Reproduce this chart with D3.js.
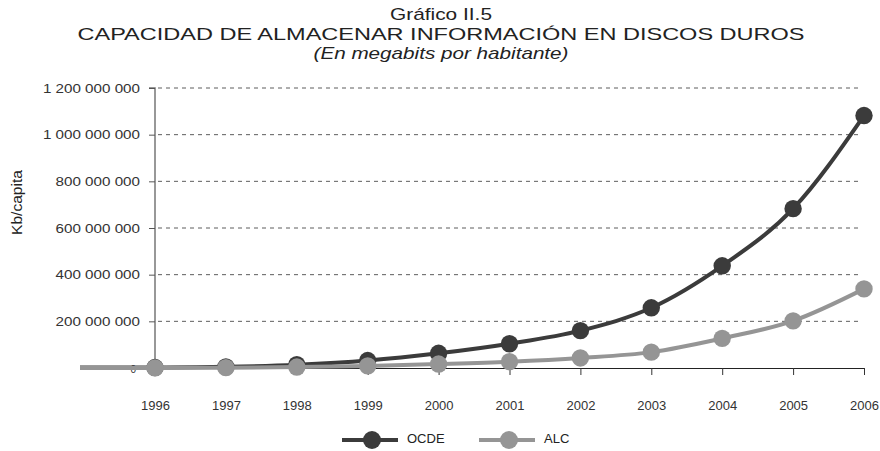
<!DOCTYPE html>
<meta charset="utf-8">
<style>
body { margin: 0; background: #fff; }
text { font-family: "Liberation Sans", Arial, Helvetica, sans-serif; fill: #222; }
.title { font-size: 17px; }
.tick text { font-size: 13px; fill: #333; }
.grid line { stroke: #333; stroke-dasharray: 4,4; stroke-width: 0.8; }
</style>
<body>
<script src="https://cdn.jsdelivr.net/npm/d3@7"></script>
<script>

var years = [1996, 1997, 1998, 1999, 2000, 2001, 2002, 2003, 2004, 2005, 2006];
var ocde = [2e6, 5e6, 14e6, 32e6, 63e6, 104e6, 160e6, 258e6, 438e6, 683e6, 1082e6];
var alc  = [0.5e6, 1.5e6, 4e6, 9e6, 17e6, 27e6, 43e6, 68e6, 127e6, 202e6, 339e6];
var yTicks = [0, 200e6, 400e6, 600e6, 800e6, 1000e6, 1200e6];

var width = 880, height = 451;
var svg = d3.select("body").append("svg")
    .attr("width", width)
    .attr("height", height);

var x = d3.scaleLinear().domain([1996, 2006]).range([155, 864]);
var y = d3.scaleLinear().domain([0, 1200e6]).range([368, 88]);

function fmt(v) {
  if (v == 0) return "0";
  return d3.format(",")(v).replace(/,/g, " ");
}

// titles (the original is stretched sideways, so fit each line to its width)
var titles = [
  {t: "Gráfico II.5", y: 20, w: 102, italic: false},
  {t: "CAPACIDAD DE ALMACENAR INFORMACIÓN EN DISCOS DUROS", y: 40, w: 727, italic: false},
  {t: "(En megabits por habitante)", y: 59, w: 255, italic: true}
];
titles.forEach(function(d) {
  svg.append("text").attr("class", "title")
      .attr("x", 441 - d.w / 2).attr("y", d.y)
      .attr("textLength", d.w).attr("lengthAdjust", "spacingAndGlyphs")
      .style("font-style", d.italic ? "italic" : "normal")
      .text(d.t);
});

svg.append("text")
    .attr("transform", "translate(22,235) rotate(-90)")
    .attr("textLength", 65).attr("lengthAdjust", "spacingAndGlyphs")
    .style("font-size", "14px")
    .text("Kb/capita");

// grid
svg.append("g").attr("class", "grid")
  .selectAll("line")
  .data(yTicks.filter(d => d > 0))
  .enter().append("line")
    .attr("x1", 158).attr("x2", 862)
    .attr("y1", d => y(d)).attr("y2", d => y(d));

// y axis
var yAxis = svg.append("g")
    .attr("transform", "translate(155,0)")
    .call(d3.axisLeft(y).tickValues(yTicks).tickFormat(fmt).tickSize(6).tickPadding(9));
yAxis.select(".domain").attr("stroke", "#777").attr("stroke-width", 1.5)
    .attr("d", "M-6," + y(1200e6) + "H0V" + y(0));
yAxis.selectAll(".tick line").attr("stroke", "#555");
yAxis.selectAll(".tick text")
    .attr("x", null)
    .attr("transform", "translate(-15,0) scale(1.17,1)");
yAxis.selectAll(".tick").filter(d => d == 0).select("line").remove();
yAxis.selectAll(".tick").filter(d => d == 0).select("text")
    .attr("transform", "translate(-19,1)").style("font-size", "10px");

// x axis
var xAxis = svg.append("g")
    .attr("transform", "translate(0," + y(0) + ")")
    .call(d3.axisBottom(x).tickValues(years).tickFormat(d3.format("d")).tickSize(7).tickPadding(26));
xAxis.select(".domain").attr("stroke", "#222").attr("stroke-width", 1);
xAxis.selectAll(".tick line").attr("stroke", "#333");

var series = [
  {name: "OCDE", values: ocde, color: "#3b3b3b"},
  {name: "ALC", values: alc, color: "#959595"}
];

var line = d3.line()
    .x((d, i) => x(years[i]))
    .y(d => y(d))
    .curve(d3.curveMonotoneX);

series.forEach(function(s) {
  // short lead-in stub left of the axis
  svg.append("line")
      .attr("x1", x(1996) - 75).attr("x2", x(1996))
      .attr("y1", y(s.values[0])).attr("y2", y(s.values[0]))
      .attr("stroke", s.color).attr("stroke-width", 4);
  svg.append("path")
      .datum(s.values)
      .attr("fill", "none")
      .attr("stroke", s.color)
      .attr("stroke-width", 4)
      .attr("d", line);
  svg.append("g").selectAll("circle")
    .data(s.values)
    .enter().append("circle")
      .attr("cx", (d, i) => x(years[i]))
      .attr("cy", d => y(d))
      .attr("r", 8.7)
      .attr("fill", s.color);
});

// legend
var legend = svg.append("g").attr("transform", "translate(0,440)");
var lx = [342, 479];
series.forEach(function(s, i) {
  var g = legend.append("g").attr("transform", "translate(" + lx[i] + ",0)");
  g.append("line").attr("x1", 0).attr("x2", 56).attr("stroke", s.color).attr("stroke-width", 4);
  g.append("circle").attr("cx", 30).attr("r", 9).attr("fill", s.color);
  g.append("text").attr("x", 65).attr("y", 3).style("font-size", "13px").text(s.name);
});
</script>
</body>
</html>
